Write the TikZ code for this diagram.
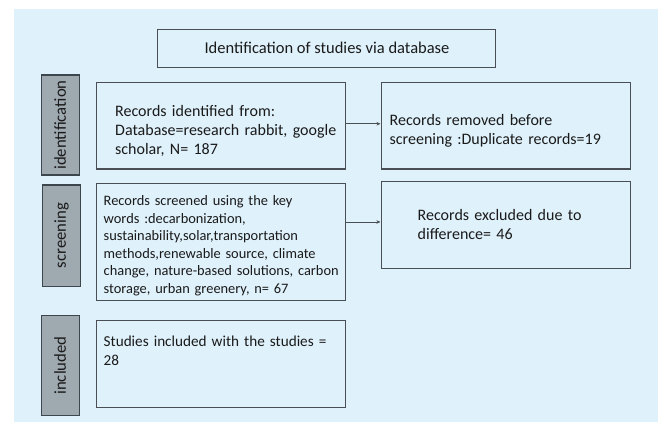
\documentclass[tikz,border=0pt]{standalone}
\usepackage{fontspec}
\setmainfont{Carlito}
\usetikzlibrary{arrows.meta}
\definecolor{bgblue}{HTML}{DFF1FB}
\definecolor{boxline}{HTML}{4A4F55}
\definecolor{sidefill}{HTML}{9FA9B0}
\definecolor{sideline}{HTML}{3E464D}
\definecolor{txt}{HTML}{1A1A1A}
\tikzset{
  box/.style={draw=boxline, line width=1.1pt, fill=bgblue, inner sep=0pt, anchor=north west},
  side/.style={draw=sideline, line width=1.1pt, fill=sidefill, inner sep=0pt, anchor=north west},
  sidetxt/.style={rotate=90, text=txt, font=\fontsize{16.7}{19}\selectfont, inner sep=0pt},
  bodytxt/.style={anchor=base west, align=left, text=txt, inner sep=0pt, text width=#1},
  conn/.style={draw=boxline, line width=0.9pt, -{Stealth[length=4pt,width=3.5pt]}}
}
\begin{document}
\begin{tikzpicture}[x=1pt,y=-1pt]
\useasboundingbox (0,0) rectangle (658,422);
\fill[white] (0,0) rectangle (658,422);
\fill[bgblue] (14,9) rectangle (658,422);

% title
\node[box, minimum width=338pt, minimum height=38pt] (title) at (156.5,29) {};
\node[text=txt, font=\fontsize{16.5}{19}\selectfont, anchor=base, inner sep=0pt] (titletxt) at (327,54) {Identification of studies via database};

% side labels
\node[side, minimum width=38pt, minimum height=100pt] (sid) at (40.5,74.5) {};
\node[sidetxt] (sidt) at (sid.center) {identification};
\node[side, minimum width=38pt, minimum height=101pt] (sscr) at (42,184.5) {};
\node[sidetxt] (sscrt) at (sscr.center) {screening};
\node[side, minimum width=38pt, minimum height=100pt] (sinc) at (40.5,315) {};
\node[sidetxt] (sinct) at (sinc.center) {included};

% boxes
\node[box, minimum width=249pt, minimum height=86.5pt] (rec) at (96,82) {};
\node[bodytxt=235pt, font=\fontsize{16}{18.7}\selectfont] (rect) at (115,117) {Records identified from:\\Database=research rabbit, google\\scholar, N= 187};

\node[box, minimum width=249pt, minimum height=86.5pt] (rem) at (380.5,82) {};
\node[bodytxt=235pt, font=\fontsize{16}{19}\selectfont] (remt) at (389.5,126) {Records removed before\\screening :Duplicate records=19};

\node[box, minimum width=249pt, minimum height=116.5pt] (scr) at (96,183) {};
\node[bodytxt=240pt, font=\fontsize{14.4}{17.5}\selectfont] (scrt) at (103.5,205.5) {Records screened using the key\\words :decarbonization,\\sustainability,solar,transportation\\methods,renewable source, climate\\change, nature-based solutions, carbon\\storage, urban greenery, n= 67};

\node[box, minimum width=249pt, minimum height=86.5pt] (exc) at (380.5,181) {};
\node[bodytxt=200pt, font=\fontsize{16}{19}\selectfont] (exct) at (417.5,220) {Records excluded due to\\difference= 46};

\node[box, minimum width=249pt, minimum height=86.5pt] (inc) at (96,320) {};
\node[bodytxt=240pt, font=\fontsize{15.2}{18.5}\selectfont] (inct) at (103.5,346.5) {Studies included with the studies =\\28};

% connectors
\draw[conn] ([yshift=2pt]rec.east) -- ([yshift=2pt]rem.west);
\draw[conn] (scr.east |- 0,222) -- (exc.west |- 0,222);
\end{tikzpicture}
\end{document}
